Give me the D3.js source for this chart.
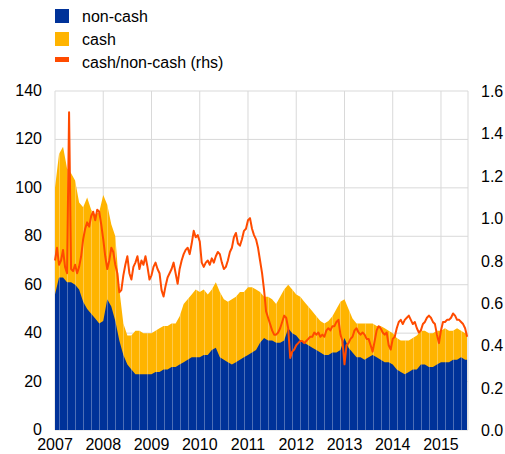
<!DOCTYPE html>
<html><head><meta charset="utf-8">
<script src="https://cdn.jsdelivr.net/npm/d3@7"></script>
<style>body{margin:0;background:#fff}svg{display:block;font-family:"Liberation Sans",Arial,sans-serif}</style>
</head><body><svg id="c" width="505" height="454"></svg>
<script>
// monthly stacked values, starting Jan 2007
const startYear = 2007;
const total = [100,114,117,108,106,103,94,92,96,91,89,90,
  97,93,85,80,58,44,39,39,41,41,40,40,
  40,41,42,43,43,44,44,47,52,54,56,58,
  57,58,56,58,61,57,54,53,54,55,57,57,
  59,59,58,57,55,55,54,52,55,58,60,58,
  56,55,53,51,49,47,45,44,45,47,50,53,
  54,50,46,44,44,44,44,44,43,43,42,41,
  40,38,37,37,37,38,39,41,41,40,40,41,
  41,42,41,41,42,41,40];
const nonCash = [56,63,63,61,61,60,58,53,50,48,46,44,
  45,54,51,45,37,31,27,25,23,23,23,23,
  23,24,24,25,25,26,26,27,28,29,30,30,
  30,31,31,33,34,30,29,28,27,28,29,30,
  31,32,33,36,38,37,37,36,36,37,42,40,
  39,37,36,35,34,33,32,31,31,32,32,33,
  38,34,32,30,30,29,30,31,30,29,28,28,
  27,25,24,23,24,25,25,27,27,26,26,27,
  28,28,28,29,29,30,29];
// half-monthly ratio cash/non-cash (rhs)
const ratio = [0.80,0.86,0.78,0.80,0.85,0.77,0.74,1.50,0.76,0.75,0.78,0.74,
  0.77,0.82,0.90,0.95,0.98,0.96,1.01,1.03,0.99,1.04,1.03,0.97,
  0.90,0.82,0.76,0.80,0.86,0.84,0.78,0.74,0.65,0.66,0.73,0.78,
  0.82,0.74,0.71,0.77,0.79,0.82,0.76,0.80,0.78,0.82,0.77,0.71,
  0.73,0.77,0.79,0.76,0.74,0.66,0.63,0.68,0.72,0.74,0.76,0.79,
  0.74,0.69,0.76,0.80,0.83,0.85,0.86,0.83,0.88,0.94,0.91,0.92,
  0.89,0.79,0.77,0.79,0.80,0.78,0.81,0.79,0.82,0.84,0.83,0.79,
  0.76,0.77,0.80,0.84,0.86,0.91,0.93,0.88,0.87,0.90,0.94,0.95,
  0.99,1.00,0.95,0.92,0.90,0.86,0.80,0.74,0.66,0.56,0.53,0.50,
  0.47,0.45,0.45,0.46,0.48,0.51,0.54,0.53,0.48,0.34,0.37,0.38,
  0.40,0.41,0.42,0.42,0.41,0.42,0.43,0.44,0.44,0.46,0.45,0.46,
  0.44,0.45,0.44,0.47,0.48,0.47,0.49,0.49,0.51,0.52,0.45,0.42,
  0.31,0.40,0.41,0.43,0.44,0.47,0.48,0.46,0.45,0.46,0.45,0.43,
  0.43,0.40,0.37,0.42,0.47,0.49,0.48,0.46,0.45,0.46,0.40,0.38,
  0.43,0.44,0.48,0.51,0.52,0.50,0.52,0.53,0.54,0.52,0.50,0.51,
  0.48,0.46,0.47,0.50,0.51,0.53,0.54,0.53,0.51,0.50,0.45,0.41,
  0.47,0.51,0.51,0.52,0.52,0.53,0.55,0.54,0.52,0.52,0.51,0.50,
  0.48,0.44];
const years = [2007,2008,2009,2010,2011,2012,2013,2014,2015];
const leftTicks = [0,20,40,60,80,100,120,140];
const rightTicks = [0,0.2,0.4,0.6,0.8,1.0,1.2,1.4,1.6];
const legendLabels = ["non-cash","cash","cash/non-cash (rhs)"];
const colors = {nonCash:"#003299", cash:"#FFB400", ratio:"#FF4B00"};

const svg = d3.select("#c");
const L=55, R=468, T=91, B=430;
const x = d3.scaleLinear().domain([2007, 2015.56]).range([L,R]);
const y = d3.scaleLinear().domain([0,140]).range([B,T]);
const y2 = d3.scaleLinear().domain([0,1.6]).range([B,T]);

const stackData = total.map((t,i)=>({t:startYear+i/12, nc:nonCash[i], tot:t}));
const ratioData = ratio.map((r,i)=>({t:startYear+i/24, r}));

// grid
const g = svg.append("g");
g.selectAll(".hg").data(leftTicks).join("line")
  .attr("x1",L).attr("x2",R).attr("y1",d=>y(d)).attr("y2",d=>y(d))
  .attr("stroke","#d9d9d9").attr("stroke-width",1);
g.selectAll(".vg").data(years).join("line")
  .attr("x1",d=>x(d)).attr("x2",d=>x(d)).attr("y1",T).attr("y2",B)
  .attr("stroke","#d9d9d9").attr("stroke-width",1);
g.append("line").attr("x1",R).attr("x2",R).attr("y1",T).attr("y2",B).attr("stroke","#d9d9d9");

// areas
const ext = stackData.concat([{t:2015.54, nc:nonCash[nonCash.length-1], tot:total[total.length-1]}]);
const totArea = d3.area().x(d=>x(d.t)).y0(y(0)).y1(d=>y(d.tot));
svg.append("clipPath").attr("id","clipTot").append("path").datum(ext).attr("d",totArea);
svg.append("path").datum(ext)
  .attr("fill",colors.cash)
  .attr("d", totArea);
svg.append("path").datum(ext)
  .attr("fill",colors.nonCash)
  .attr("d", d3.area().x(d=>x(d.t)).y0(y(0)).y1(d=>y(d.nc)));
// faint bar separators
svg.append("g").attr("clip-path","url(#clipTot)")
  .selectAll("line").data(stackData.filter((d,i)=>i%2===1)).join("line")
  .attr("x1",d=>Math.round(x(d.t))+0.5).attr("x2",d=>Math.round(x(d.t))+0.5)
  .attr("y1",T).attr("y2",B)
  .attr("stroke","#fff").attr("stroke-opacity",0.3).attr("stroke-width",1);

// line
svg.append("path").datum(ratioData)
  .attr("fill","none").attr("stroke",colors.ratio).attr("stroke-width",2).attr("stroke-linejoin","round")
  .attr("d", d3.line().x(d=>x(d.t)).y(d=>y2(d.r)));

// axes labels
const fs = 16;
svg.append("g").selectAll("text").data(leftTicks).join("text")
  .attr("x",42).attr("y",d=>y(d)+5).attr("text-anchor","end")
  .attr("font-size",fs).attr("fill","#000").text(d=>d);
svg.append("g").selectAll("text").data(rightTicks).join("text")
  .attr("x",481).attr("y",d=>y2(d)+6).attr("text-anchor","start")
  .attr("font-size",fs).attr("fill","#000").text(d=>d.toFixed(1));
svg.append("g").selectAll("text").data(years).join("text")
  .attr("x",d=>x(d)).attr("y",450).attr("text-anchor","middle")
  .attr("font-size",fs).attr("fill","#000").text(d=>d);

// legend
const lg = svg.append("g");
lg.append("rect").attr("x",55).attr("y",9).attr("width",14).attr("height",14).attr("fill",colors.nonCash);
lg.append("rect").attr("x",55).attr("y",32).attr("width",14).attr("height",14).attr("fill",colors.cash);
lg.append("rect").attr("x",55).attr("y",57).attr("width",14).attr("height",5).attr("fill",colors.ratio);
lg.selectAll("text").data(legendLabels).join("text")
  .attr("x",82).attr("y",(d,i)=>22+i*23).attr("font-size",fs).attr("fill","#000").text(d=>d);
</script></body></html>
